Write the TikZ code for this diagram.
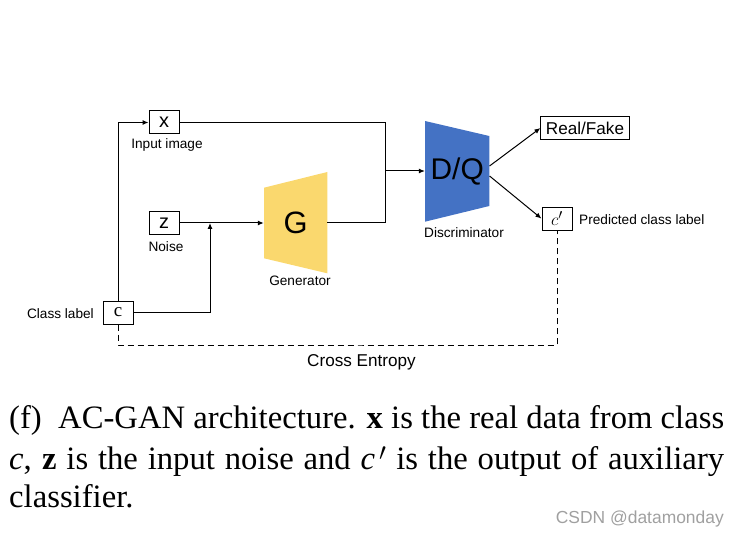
\documentclass[tikz,border=0pt]{standalone}
\usepackage{fontspec}
\setmainfont{Liberation Serif}
\newfontfamily\arial{Liberation Sans}
\usetikzlibrary{arrows.meta}
\definecolor{genyellow}{RGB}{250,216,110}
\definecolor{disblue}{RGB}{68,114,196}
\definecolor{markgray}{RGB}{160,160,160}
\tikzset{
    box/.style={draw, line width=1bp, minimum width=30bp, minimum height=23bp, inner sep=0pt},
    lbl/.style={font=\arial\fontsize{13.7}{16}\selectfont, inner sep=0pt},
    conn/.style={line width=1bp},
    arr/.style={conn, -{Latex[length=6bp,width=5bp]}},
    capline/.style={anchor=base west, inner sep=0pt, font=\fontsize{32.8}{39}\selectfont}
}

\begin{document}
\begin{tikzpicture}[x=1bp,y=-1bp]
    \useasboundingbox (0,0) rectangle (741,536);
    % inputs
    \node[box, font=\arial\fontsize{20}{20}\selectfont] (x) at (164,122.5) {x};
    \node[box, font=\arial\fontsize{20}{20}\selectfont] (z) at (164,223) {z};
    \node[box, font=\fontsize{19}{19}\selectfont] (c) at (118,312.5) {c};
    \node[lbl] (xlbl) at (167,145) {Input image};
    \node[lbl] (zlbl) at (166,247) {Noise};
    \node[lbl, anchor=east] (clbl) at (94,314) {Class label};
    % generator
    \fill[genyellow] (264,187.7) -- (327.3,172) -- (327.3,273.3) -- (264,258.3) -- cycle;
    \node[minimum width=63.3bp, inner sep=0pt, font=\arial\fontsize{31}{31}\selectfont] (G) at (295.6,223) {G};
    \node[lbl] (glbl) at (300,281) {Generator};
    % discriminator
    \fill[disblue] (425,121) -- (489.3,136) -- (489.3,206) -- (425,221.7) -- cycle;
    \node[minimum width=64.3bp, inner sep=0pt, font=\arial\fontsize{30}{30}\selectfont] (DQ) at (457.2,171) {D/Q};
    \node[lbl] (dlbl) at (464,233) {Discriminator};
    % outputs
    \node[box, inner xsep=5bp, font=\arial\fontsize{17.2}{20}\selectfont] (rf) at (585,128) {Real/Fake};
    \node[box, font=\fontsize{19}{19}\selectfont] (cp) at (557,218.6) {$c'$};
    \node[lbl, anchor=west] (cplbl) at (579,220) {Predicted class label};

    \coordinate (gr) at (385,223);
    \coordinate (mrg) at (385,171);
    \coordinate (jn) at (210,223);
    \coordinate (ce) at (361.5,345);

    \draw[arr] (c.north) |- (x.west);
    \draw[arr] (c.east) -| (jn);
    \draw[arr] (z.east) -- (G.west);
    \draw[conn] (x.east) -| (gr) -- (G.east);
    \draw[arr] (mrg) -- (DQ.west);
    \draw[arr] ([yshift=5bp]DQ.east) -- (rf.west);
    \draw[arr] ([yshift=-5bp]DQ.east) -- (cp.west);
    \draw[conn, dash pattern=on 6bp off 4bp] (c.south) |- (ce) -| (cp.south);
    \node[font=\arial\fontsize{17.2}{20}\selectfont, inner sep=0pt] (celbl) at (361.5,362) {Cross Entropy};

    % caption
    \node[capline] (cap1) at (9,428) {\makebox[715bp][s]{(f)\enspace AC-GAN architecture. \textbf{x} is the real data from class}};
    \node[capline] (cap2) at (9,469) {\makebox[715bp][s]{\textit{c}, \textbf{z} is the input noise and \textit{c}$^{\,\prime}$\ is the output of auxiliary}};
    \node[capline] (cap3) at (9,507) {classifier.};
    \node[anchor=base east, inner sep=0pt, text=markgray, font=\arial\fontsize{17.5}{20}\selectfont] (mark) at (724,523) {CSDN @datamonday};
\end{tikzpicture}
\end{document}
